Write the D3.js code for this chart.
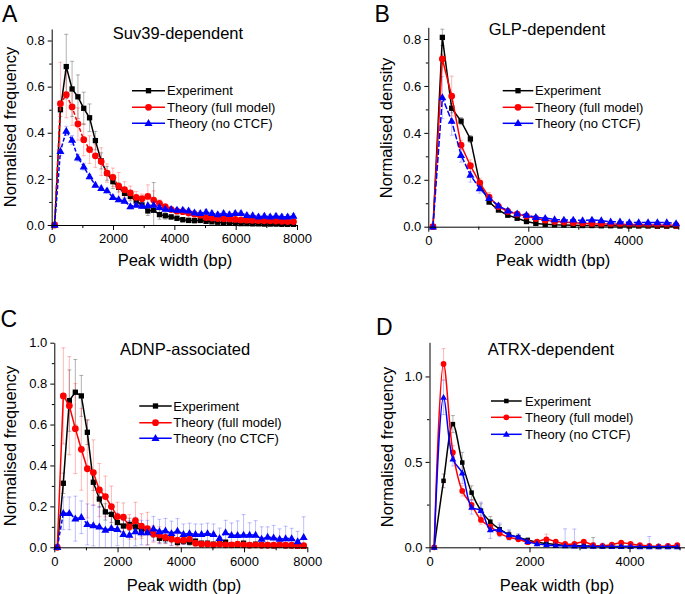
<!DOCTYPE html>
<html><head><meta charset="utf-8">
<script src="https://cdn.jsdelivr.net/npm/d3@7"></script>
<style>
body{margin:0;background:#fff}
svg{display:block;font-family:"Liberation Sans",Arial,Helvetica,sans-serif}
</style>
</head><body>
<svg id="chart" width="685" height="594"></svg>
<script>
// ---------- DATA ----------
const seriesNames = ["Experiment", "Theory (full model)", "Theory (no CTCF)"];

// bin centres (bp)
const binsAC = [95,285,475,665,855,1045,1235,1425,1615,1805,1995,2185,2375,2565,2755,2945,3135,3325,3515,3705,3895,4085,4275,4465,4655,4845,5035,5225,5415,5605,5795,5985,6175,6365,6555,6745,6935,7125,7315,7505,7695,7885];
const binsBD = [94,281,468,655,842,1029,1216,1403,1590,1777,1964,2151,2338,2525,2712,2899,3086,3273,3460,3647,3834,4021,4208,4395,4582,4769,4956];

// Panel A : Suv39-dependent
const aExp   = [0,0.50,0.687,0.59,0.556,0.506,0.465,0.366,0.278,0.224,0.188,0.163,0.137,0.124,0.104,0.087,0.061,0.064,0.045,0.04,0.035,0.029,0.023,0.02,0.019,0.02,0.016,0.014,0.012,0.01,0.009,0.007,0.006,0.006,0.005,0.005,0.004,0.004,0.004,0.003,0.003,0.003];
const aFull  = [0,0.526,0.565,0.512,0.438,0.37,0.327,0.30,0.275,0.225,0.207,0.168,0.153,0.139,0.12,0.114,0.124,0.108,0.094,0.079,0.067,0.06,0.058,0.052,0.047,0.042,0.032,0.03,0.028,0.027,0.026,0.024,0.022,0.021,0.02,0.019,0.018,0.018,0.017,0.016,0.015,0.015];
const aNoCtcf= [0,0.32,0.408,0.368,0.292,0.253,0.21,0.173,0.159,0.149,0.12,0.111,0.104,0.08,0.087,0.082,0.085,0.087,0.077,0.069,0.068,0.065,0.065,0.062,0.053,0.051,0.056,0.051,0.045,0.051,0.046,0.051,0.051,0.042,0.041,0.036,0.039,0.036,0.039,0.036,0.036,0.039];
const aExpErr   = [0,0.03,0.14,0.12,0.095,0.07,0.06,0.04,0.035,0.03,0.03,0.02,0.02,0.02,0.015,0.015,0.02,0.12,0.02,0.015,0.01,0.01,0.01,0.01,0.01,0.01,0.008,0.008,0.006,0.006,0.005,0.005,0.004,0.004,0.004,0.003,0.003,0.003,0.003,0.003,0.003,0.003];
const aFullErr  = [0,0.18,0.1,0.08,0.07,0.07,0.06,0.05,0.06,0.04,0.04,0.06,0.035,0.03,0.025,0.02,0.05,0.04,0.015,0.015,0.01,0.01,0.01,0.01,0.01,0.008,0.008,0.008,0.006,0.006,0.006,0.005,0.005,0.005,0.005,0.005,0.005,0.005,0.005,0.005,0.005,0.005];
const aNoCtcfErr= [0,0.02,0.02,0.02,0.015,0.015,0.01,0.01,0.01,0.01,0.01,0.01,0.01,0.01,0.01,0.01,0.01,0.01,0.01,0.01,0.01,0.01,0.01,0.01,0.01,0.01,0.01,0.01,0.01,0.01,0.01,0.01,0.01,0.01,0.01,0.01,0.01,0.01,0.01,0.01,0.01,0.01];

// Panel B : GLP-dependent
const bExp   = [0,0.807,0.505,0.45,0.374,0.184,0.105,0.071,0.049,0.036,0.022,0.014,0.01,0.008,0.007,0.006,0.005,0.005,0.004,0.004,0.003,0.003,0.003,0.003,0.002,0.002,0.002];
const bFull  = [0,0.715,0.557,0.348,0.26,0.187,0.126,0.086,0.065,0.054,0.045,0.035,0.028,0.022,0.02,0.017,0.015,0.013,0.012,0.011,0.01,0.009,0.008,0.008,0.007,0.007,0.006];
const bNoCtcf= [0,0.551,0.45,0.305,0.22,0.163,0.121,0.089,0.068,0.055,0.05,0.04,0.036,0.031,0.029,0.029,0.026,0.029,0.026,0.021,0.021,0.018,0.018,0.018,0.018,0.018,0.014];
const bExpErr   = [0,0.035,0.02,0.015,0.015,0.01,0.008,0.006,0.005,0.004,0.003,0.003,0.002,0.002,0.002,0.002,0.002,0.002,0.002,0.002,0.002,0.002,0.002,0.002,0.002,0.002,0.002];
const bFullErr  = [0,0.02,0.085,0.02,0.025,0.02,0.02,0.015,0.01,0.008,0.006,0.005,0.005,0.004,0.004,0.004,0.004,0.004,0.004,0.004,0.004,0.004,0.004,0.004,0.004,0.004,0.004];
const bNoCtcfErr= [0,0.09,0.06,0.03,0.03,0.02,0.015,0.01,0.008,0.006,0.005,0.005,0.005,0.004,0.004,0.004,0.004,0.004,0.004,0.004,0.004,0.004,0.004,0.004,0.004,0.004,0.004];

// Panel C : ADNP-associated
const cExp   = [0,0.313,0.717,0.758,0.74,0.562,0.318,0.236,0.173,0.161,0.121,0.104,0.112,0.10,0.085,0.081,0.068,0.044,0.042,0.042,0.024,0.03,0.025,0.03,0.02,0.02,0.015,0.02,0.025,0.012,0.01,0.02,0.01,0.015,0.012,0.01,0.008,0.01,0.008,0.008,0.006,0.005];
const cFull  = [0,0.74,0.692,0.58,0.479,0.384,0.365,0.28,0.248,0.199,0.15,0.147,0.10,0.13,0.104,0.091,0.065,0.06,0.048,0.04,0.035,0.035,0.04,0.02,0.015,0.015,0.012,0.015,0.012,0.012,0.015,0.012,0.01,0.012,0.01,0.01,0.01,0.012,0.01,0.01,0.008,0.008];
const cNoCtcf= [0,0.166,0.166,0.14,0.147,0.112,0.107,0.10,0.085,0.093,0.088,0.064,0.06,0.077,0.072,0.072,0.091,0.077,0.081,0.068,0.08,0.064,0.068,0.064,0.064,0.068,0.064,0.044,0.072,0.059,0.059,0.06,0.06,0.06,0.04,0.05,0.047,0.04,0.043,0.043,0.028,0.049];
const cExpErr   = [0,0.05,0.15,0.16,0.1,0.06,0.04,0.04,0.04,0.04,0.03,0.03,0.03,0.03,0.03,0.02,0.02,0.02,0.02,0.02,0.015,0.015,0.015,0.01,0.01,0.01,0.01,0.01,0.01,0.01,0.01,0.01,0.01,0.01,0.01,0.01,0.01,0.01,0.01,0.01,0.01,0.01];
const cFullErr  = [0,0.235,0.24,0.22,0.2,0.24,0.16,0.13,0.1,0.1,0.07,0.07,0.06,0.09,0.06,0.08,0.04,0.04,0.03,0.03,0.03,0.02,0.02,0.015,0.01,0.01,0.01,0.01,0.01,0.01,0.01,0.01,0.01,0.01,0.01,0.01,0.01,0.01,0.01,0.01,0.01,0.01];
const cNoCtcfErr= [0,0.08,0.08,0.11,0.08,0.1,0.1,0.1,0.1,0.1,0.08,0.07,0.07,0.07,0.06,0.06,0.06,0.06,0.06,0.06,0.06,0.05,0.05,0.05,0.05,0.05,0.05,0.05,0.06,0.06,0.07,0.1,0.06,0.07,0.06,0.05,0.06,0.05,0.06,0.05,0.05,0.1];

// Panel D : ATRX-dependent
const dExp   = [0,0.389,0.721,0.496,0.32,0.215,0.15,0.106,0.075,0.058,0.043,0.03,0.022,0.016,0.012,0.01,0.008,0.007,0.006,0.005,0.005,0.004,0.004,0.003,0.003,0.003,0.003];
const dFull  = [0,1.073,0.555,0.33,0.248,0.16,0.121,0.082,0.059,0.047,0.03,0.033,0.047,0.033,0.02,0.02,0.033,0.012,0.008,0.015,0.027,0.02,0.012,0.008,0.006,0.008,0.012];
const dNoCtcf= [0,0.877,0.516,0.434,0.234,0.215,0.102,0.102,0.072,0.059,0.033,0.02,0.014,0.01,0.008,0.007,0.006,0.005,0.005,0.004,0.004,0.004,0.003,0.003,0.003,0.003,0.003];
const dExpErr   = [0,0.04,0.05,0.06,0.04,0.04,0.03,0.025,0.02,0.015,0.01,0.01,0.008,0.006,0.005,0.005,0.005,0.05,0.004,0.004,0.004,0.003,0.003,0.003,0.003,0.003,0.003];
const dFullErr  = [0,0.09,0.04,0.03,0.03,0.025,0.02,0.015,0.01,0.01,0.008,0.01,0.03,0.01,0.008,0.008,0.01,0.005,0.005,0.005,0.005,0.005,0.005,0.005,0.005,0.005,0.005];
const dNoCtcfErr= [0,0.1,0.04,0.06,0.04,0.05,0.05,0.04,0.03,0.02,0.015,0.02,0.01,0.01,0.1,0.1,0.02,0.02,0.02,0.01,0.01,0.01,0.01,0.06,0.01,0.01,0.01];

// tick labels
const xTicks8000 = [0,2000,4000,6000,8000];
const xMinor8000 = [1000,3000,5000,7000];
const xTicks5000 = [0,2000,4000];
const xMinor5000 = [1000,3000,5000];
const yTicksAB = [0,0.2,0.4,0.6,0.8];
const yMinorAB = [0.1,0.3,0.5,0.7];
const yTicksC = [0,0.2,0.4,0.6,0.8,1.0];
const yMinorC = [0.1,0.3,0.5,0.7,0.9];
const yTicksD = [0,0.5,1.0];
const yMinorD = [0.25,0.75];

// ---------- DRAWING ----------
const svg = d3.select("#chart");
const COL = {black:"#000000", red:"#ff0000", blue:"#0000ff"};

function marker(g, shape, cx, cy, color, s) {
  if (shape === "square") {
    g.append("rect").attr("x", cx - s/2).attr("y", cy - s/2).attr("width", s).attr("height", s).attr("fill", color);
  } else if (shape === "circle") {
    g.append("circle").attr("cx", cx).attr("cy", cy).attr("r", s*0.64).attr("fill", color);
  } else {
    g.append("path").attr("d", d3.symbol().type(d3.symbolTriangle).size(s*s*1.0)())
      .attr("transform", `translate(${cx},${cy + 0.4})`).attr("fill", color);
  }
}

function drawPanel(p) {
  const x = d3.scaleLinear().domain([0, p.xMax]).range([p.x0, p.x1]);
  const y = d3.scaleLinear().domain([0, p.yMax]).range([p.y0, p.y1]);
  const g = svg.append("g");

  // error bars
  p.series.forEach(s => {
    const eg = g.append("g").attr("stroke", s.errColor).attr("stroke-width", 1).attr("fill", "none");
    s.vals.forEach((v, i) => {
      const e = s.err[i];
      if (!e) return;
      const cx = x(p.xs[i]);
      const yt = y(Math.min(v + e, p.yMax)), yb = y(Math.max(v - e, 0));
      eg.append("line").attr("x1", cx).attr("x2", cx).attr("y1", yt).attr("y2", yb);
      eg.append("line").attr("x1", cx - 2).attr("x2", cx + 2).attr("y1", yt).attr("y2", yt);
      if (v - e > 0) eg.append("line").attr("x1", cx - 2).attr("x2", cx + 2).attr("y1", yb).attr("y2", yb);
    });
  });

  // lines + markers
  p.series.forEach(s => {
    const line = d3.line().x((d, i) => x(p.xs[i])).y(d => y(d)).curve(p.curve || d3.curveLinear);
    g.append("path").datum(s.vals).attr("d", line).attr("fill", "none")
      .attr("stroke", s.color).attr("stroke-width", 1.5)
      .attr("stroke-dasharray", s.dash || null);
    const mg = g.append("g");
    s.vals.forEach((v, i) => marker(mg, s.shape, x(p.xs[i]), y(v), s.color, p.ms));
  });

  // axes
  const fs = 13;
  const xa = g.append("g").attr("transform", `translate(0,${p.y0})`)
    .call(d3.axisBottom(x).tickValues(p.xTicks).tickSize(5).tickSizeOuter(0).tickPadding(4).tickFormat(d3.format("d")));
  const xm = g.append("g").attr("transform", `translate(0,${p.y0})`)
    .call(d3.axisBottom(x).tickValues(p.xMinor).tickSize(3).tickFormat(""));
  xm.select(".domain").remove();
  const ya = g.append("g").attr("transform", `translate(${p.x0},0)`)
    .call(d3.axisLeft(y).tickValues(p.yTicks).tickSize(4).tickSizeOuter(0).tickPadding(3).tickFormat(d3.format(".1f")));
  const ym = g.append("g").attr("transform", `translate(${p.x0},0)`)
    .call(d3.axisLeft(y).tickValues(p.yMinor).tickSize(2.5).tickFormat(""));
  ym.select(".domain").remove();
  [xa, xm, ya, ym].forEach(a => {
    a.attr("font-family", null).attr("font-size", fs);
    a.selectAll("path,line").attr("stroke", "#000").attr("stroke-width", 1);
    a.selectAll("text").attr("fill", "#000");
  });

  // titles
  g.append("text").attr("x", p.titleX).attr("y", p.titleY).attr("text-anchor", "middle")
    .attr("font-size", 16.5).text(p.title);
  g.append("text").attr("x", p.xLabelX).attr("y", p.xLabelY).attr("text-anchor", "middle")
    .attr("font-size", 16.5).text("Peak width (bp)");
  g.append("text").attr("transform", `translate(${p.yLabelX},${p.yLabelY}) rotate(-90)`)
    .attr("text-anchor", "middle").attr("font-size", 16.5).text(p.yLabel);
  g.append("text").attr("x", p.letterX).attr("y", p.letterY).attr("font-size", p.letterSize).text(p.letter);

  // legend
  p.series.forEach((s, k) => {
    const ly = p.legY[k];
    g.append("line").attr("x1", p.legX0).attr("x2", p.legX1).attr("y1", ly).attr("y2", ly)
      .attr("stroke", s.color).attr("stroke-width", 1.5);
    marker(g, s.shape, (p.legX0 + p.legX1) / 2, ly, s.color, p.ms);
    g.append("text").attr("x", p.legTX).attr("y", ly + 4.6).attr("font-size", 13).text(seriesNames[k]);
  });
}

function mkSeries(vals, err, color, shape, dash, errColor) {
  return {vals, err, color, shape, dash, errColor};
}
const eBlack = "rgba(0,0,0,0.3)", eRed = "rgba(255,0,0,0.28)", eBlue = "rgba(0,0,255,0.25)";

drawPanel({
  letter: "A", letterX: 2, letterY: 22, letterSize: 23,
  title: "Suv39-dependent", titleX: 178, titleY: 39,
  yLabel: "Normalised frequency", yLabelX: 16, yLabelY: 127,
  xLabelX: 175, xLabelY: 266,
  x0: 51.7, x1: 297, xMax: 8000, y0: 225, y1: 29, yMax: 0.85,
  xs: binsAC, xTicks: xTicks8000, xMinor: xMinor8000, yTicks: yTicksAB, yMinor: yMinorAB,
  ms: 5.3,
  legX0: 132, legX1: 165, legTX: 167, legY: [90.7, 107.3, 123.3],
  series: [
    mkSeries(aExp, aExpErr, COL.black, "square", null, eBlack),
    mkSeries(aFull, aFullErr, COL.red, "circle", "4,2", eRed),
    mkSeries(aNoCtcf, aNoCtcfErr, COL.blue, "triangle", "4,2", eBlue)
  ]
});

drawPanel({
  letter: "B", letterX: 374.5, letterY: 22, letterSize: 23,
  title: "GLP-dependent", titleX: 547, titleY: 35,
  yLabel: "Normalised density", yLabelX: 391.5, yLabelY: 128,
  xLabelX: 553, xLabelY: 266,
  x0: 428.3, x1: 678.3, xMax: 5000, y0: 226.7, y1: 27.3, yMax: 0.85,
  xs: binsBD, xTicks: xTicks5000, xMinor: xMinor5000, yTicks: yTicksAB, yMinor: yMinorAB,
  ms: 5.3,
  legX0: 502.7, legX1: 533.3, legTX: 535, legY: [90.7, 107.3, 123.3],
  series: [
    mkSeries(bExp, bExpErr, COL.black, "square", null, eBlack),
    mkSeries(bFull, bFullErr, COL.red, "circle", null, eRed),
    mkSeries(bNoCtcf, bNoCtcfErr, COL.blue, "triangle", "6,2", eBlue)
  ]
});

drawPanel({
  letter: "C", letterX: 0.5, letterY: 326.5, letterSize: 23,
  title: "ADNP-associated", titleX: 185, titleY: 355,
  yLabel: "Normalised frequency", yLabelX: 16, yLabelY: 446,
  xLabelX: 184, xLabelY: 590.5,
  x0: 54.3, x1: 307.3, xMax: 8000, y0: 247.3 + 300, y1: 42.7 + 300, yMax: 1.0,
  xs: binsAC, xTicks: xTicks8000, xMinor: xMinor8000, yTicks: yTicksC, yMinor: yMinorC,
  ms: 5.3,
  legX0: 139.3, legX1: 171.7, legTX: 173.3, legY: [406, 422.7, 438.3],
  series: [
    mkSeries(cExp, cExpErr, COL.black, "square", null, eBlack),
    mkSeries(cFull, cFullErr, COL.red, "circle", null, eRed),
    mkSeries(cNoCtcf, cNoCtcfErr, COL.blue, "triangle", "4,2", eBlue)
  ]
});

drawPanel({
  letter: "D", letterX: 376, letterY: 334.5, letterSize: 23,
  title: "ATRX-dependent", titleX: 551, titleY: 355,
  yLabel: "Normalised frequency", yLabelX: 392.5, yLabelY: 447,
  xLabelX: 557, xLabelY: 590.5,
  x0: 429.5, x1: 685, xMax: 5110, y0: 247.3 + 300, y1: 42.3 + 300, yMax: 1.2,
  xs: binsBD, xTicks: xTicks5000, xMinor: xMinor5000, yTicks: yTicksD, yMinor: yMinorD,
  ms: 4.5, curve: d3.curveCatmullRom.alpha(0.5),
  legX0: 491, legX1: 521.7, legTX: 525, legY: [401, 417.3, 434.3],
  series: [
    mkSeries(dExp, dExpErr, COL.black, "square", null, eBlack),
    mkSeries(dFull, dFullErr, COL.red, "circle", null, eRed),
    mkSeries(dNoCtcf, dNoCtcfErr, COL.blue, "triangle", null, eBlue)
  ]
});
</script>
</body></html>
